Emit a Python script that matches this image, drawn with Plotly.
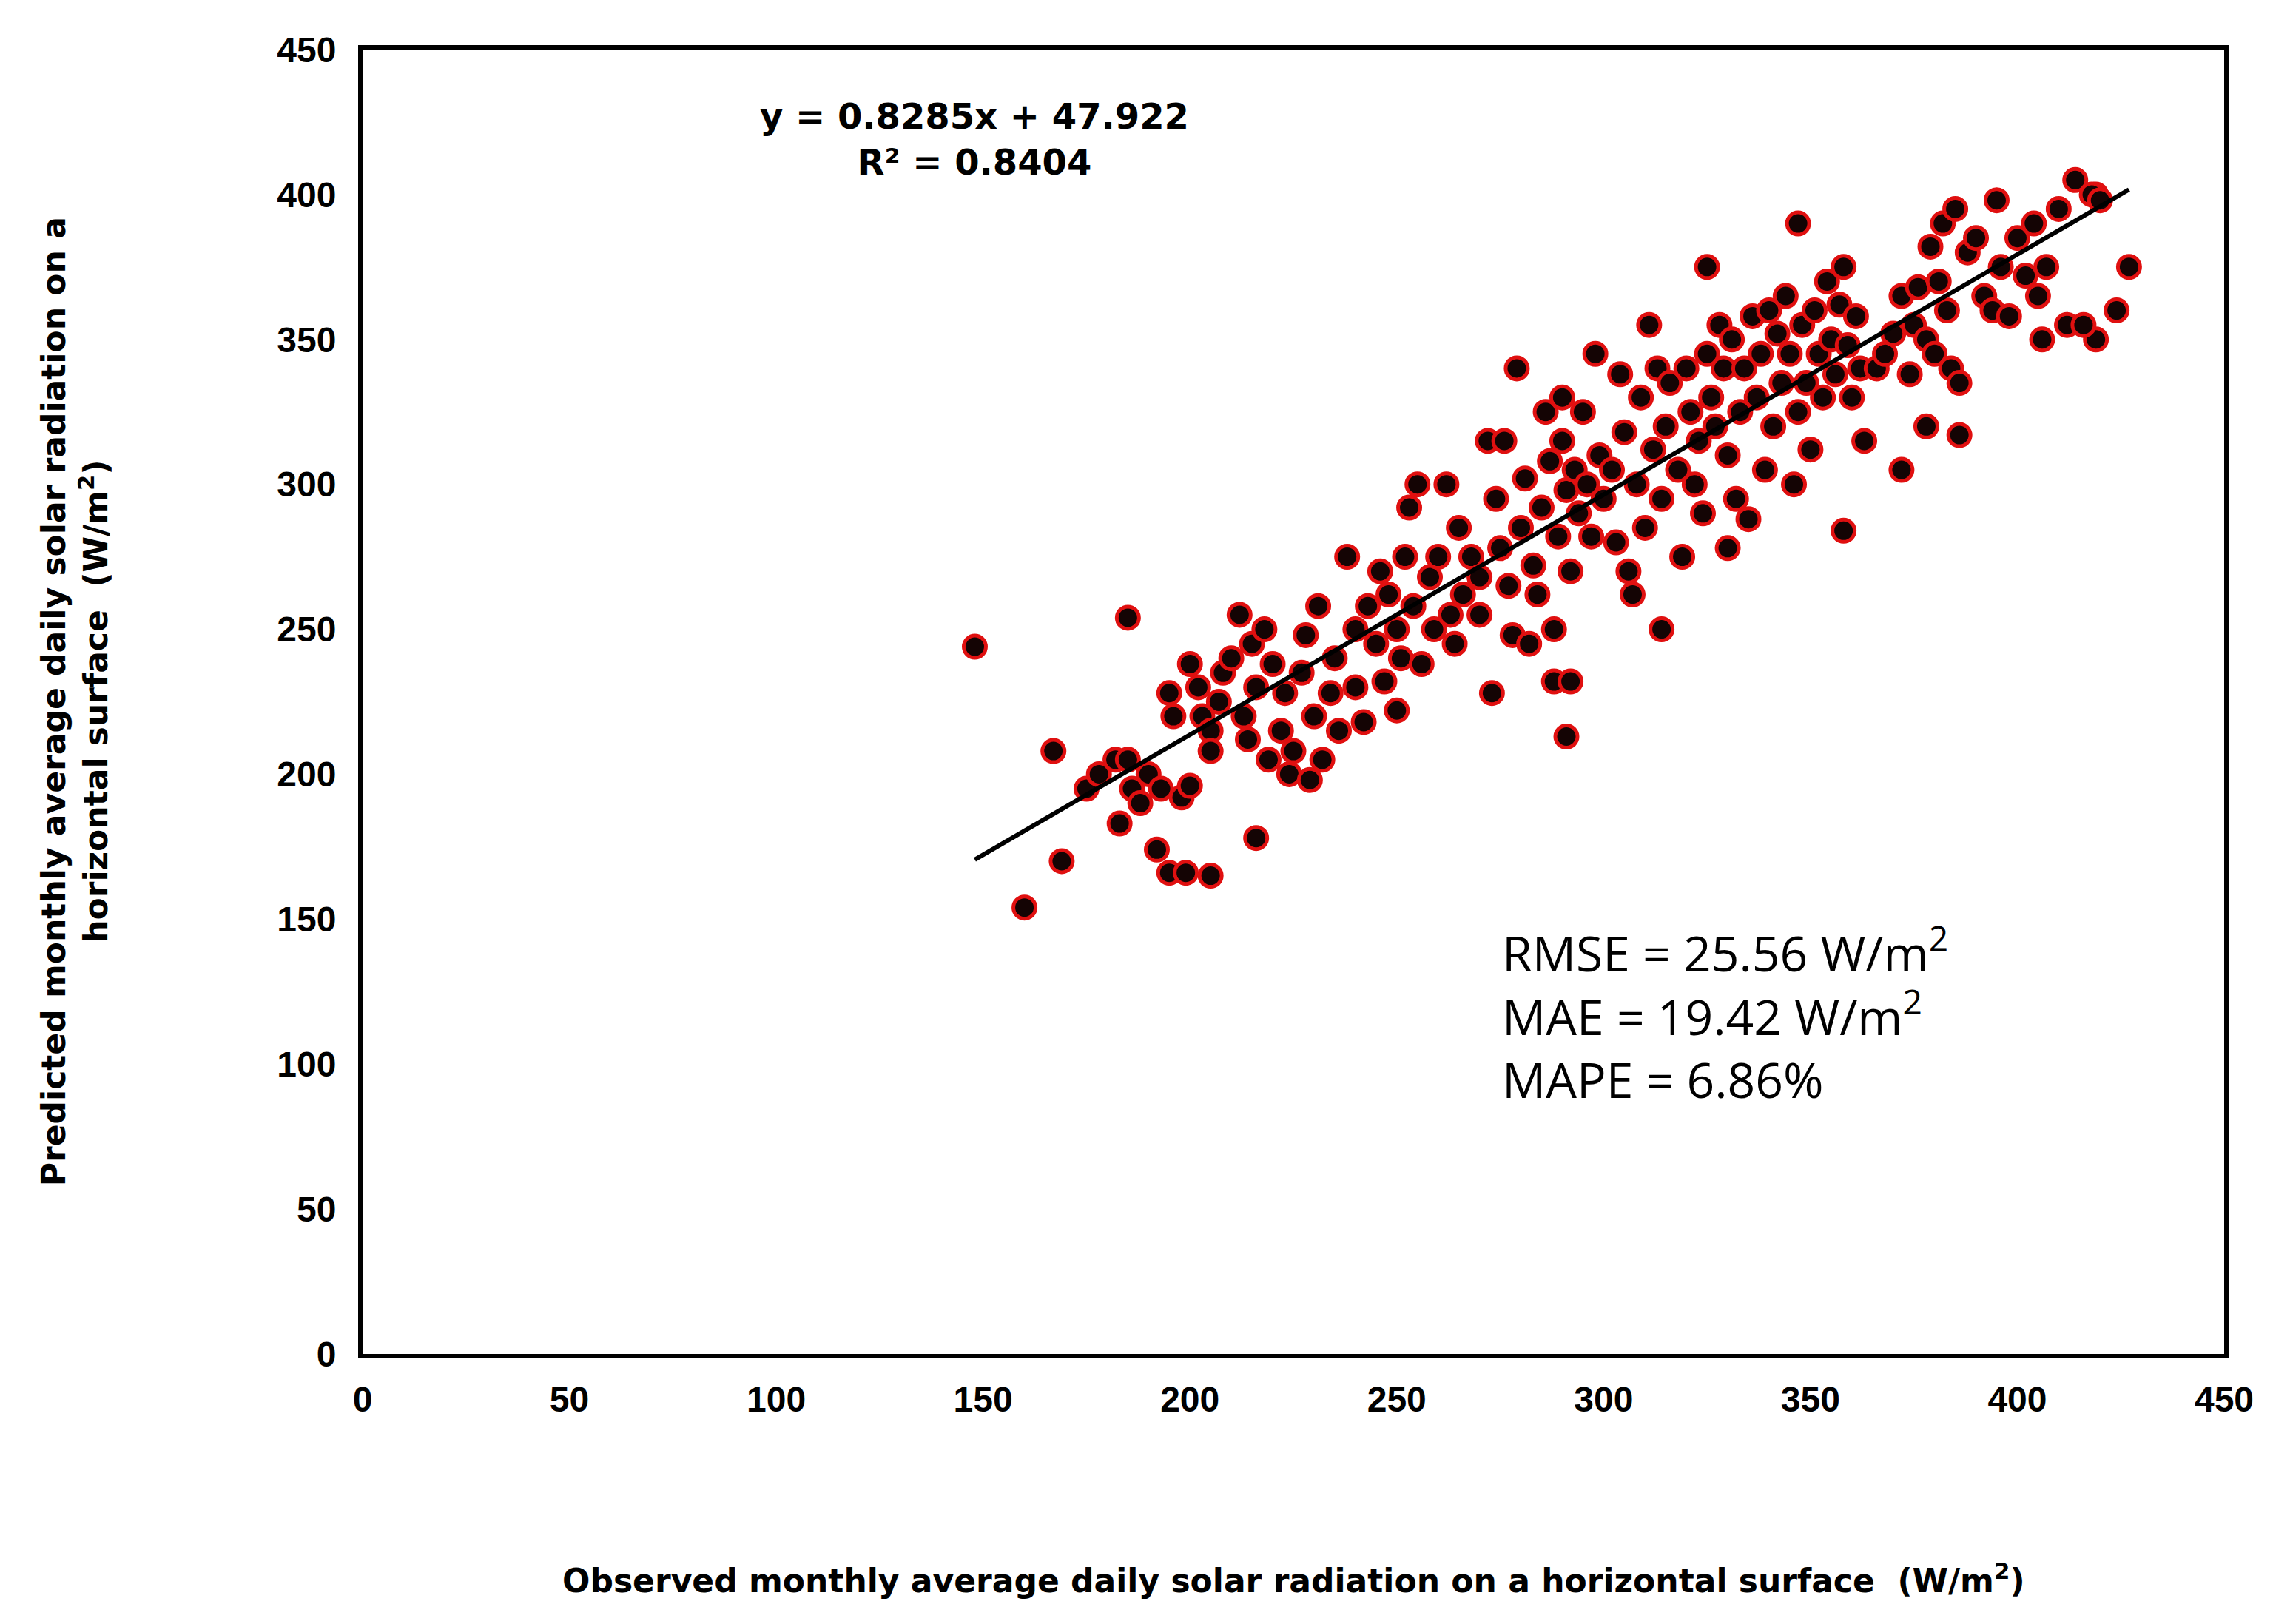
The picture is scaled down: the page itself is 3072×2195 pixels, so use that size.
import plotly.graph_objects as go

pts = [
(148,244),(160,154),(167,208),(169,170),(185,254),(183,183),(192,174),(195,166),(199,166),(205,165),(216,178),
(291,213),(288,232),(292,232),(314,250),(347,390),(325,375),(358,284),(372,305),(378,320),(386,317),(395,398),
(414,405),(427,375),(419,350),(406,350),(419,400),(424,360),
(175,195),(178,200),(182,205),(185,205),(186,195),(188,190),(190,200),(193,195),(195,228),(196,220),(198,192),
(200,196),(200,238),(202,230),(203,220),(205,215),(205,208),(207,225),(208,235),(210,240),(212,255),(213,220),
(214,212),(215,245),(216,230),(218,250),(219,205),(220,238),(222,215),(223,228),(224,200),(225,208),(227,235),
(228,248),(229,198),(230,220),(231,258),(232,205),(234,228),(235,240),(236,215),
(238,275),(240,250),(240,230),(242,218),(243,258),(245,245),(246,270),(247,232),(248,262),(250,250),(250,222),
(251,240),(252,275),(253,292),(254,258),(255,300),(256,238),(258,268),(259,250),(260,275),(262,300),(263,255),
(264,245),(265,285),(266,262),(268,275),(270,268),(270,255),
(272,315),(273,228),(274,295),(275,278),(276,315),(277,265),(278,248),(279,340),(280,285),(281,302),(282,245),
(283,272),(284,262),(285,292),(286,325),(287,308),(288,250),(289,282),(290,330),(290,315),(291,298),(292,270),
(293,305),(294,290),(295,325),(296,300),(297,282),(298,345),(299,310),(300,295),
(302,305),(303,280),(304,338),(305,318),(306,270),(307,262),(308,300),(309,330),(310,285),(311,355),(312,312),
(313,340),(314,295),(315,320),(316,335),(318,305),(319,275),(320,340),(321,325),(322,300),(323,315),(324,290),
(325,345),(326,330),(327,320),(328,355),(329,340),(330,278),(330,310),
(331,350),(332,295),(333,325),(334,340),(335,288),(336,358),(337,330),(338,345),(339,305),(340,360),(341,320),
(342,352),(343,335),(344,365),(345,345),(346,300),(347,325),(348,355),(349,335),(350,312),(351,360),(352,345),
(353,330),(354,370),(355,350),(356,338),(357,362),(358,375),(359,348),(360,330),(361,358),(362,340),(363,315),
(366,340),(368,345),(370,352),(372,365),(374,338),(375,355),(376,368),(378,350),(379,382),(380,345),(381,370),
(382,390),(383,360),(384,340),(385,395),(386,335),(388,380),(390,385),(392,365),(394,360),(396,375),(398,358),
(400,385),(402,372),(404,390),(405,365),(407,375),(410,395),(412,355),(416,355),(418,400),(420,398),
]
observed = [p[0] for p in pts]
predicted = [p[1] for p in pts]
slope, intercept = 0.8285, 47.922
fit_x = [148, 427]
fit_y = [slope * x + intercept for x in fit_x]
ticks = list(range(0, 451, 50))

fig = go.Figure()
fig.add_trace(go.Scatter(x=observed, y=predicted, mode="markers",
    marker=dict(size=30, color="#140404", line=dict(color="#e01010", width=5)), showlegend=False))
fig.add_trace(go.Scatter(x=fit_x, y=fit_y, mode="lines", line=dict(color="black", width=6), showlegend=False))

tickfont = dict(family="Liberation Sans", size=48, color="black", weight="bold")
fig.update_layout(
    width=3072, height=2195, plot_bgcolor="white", paper_bgcolor="white",
    margin=dict(l=482, r=74, t=59, b=373),
    xaxis=dict(range=[0, 450], tickvals=ticks, showgrid=False, zeroline=False,
               showline=True, linecolor="black", linewidth=6, mirror=True,
               tickfont=tickfont, ticks="outside", ticklen=14, tickcolor="white"),
    yaxis=dict(range=[0, 450], tickvals=ticks, showgrid=False, zeroline=False,
               showline=True, linecolor="black", linewidth=6, mirror=True,
               tickfont=tickfont, ticks="outside", ticklen=20, tickcolor="white"),
    font=dict(family="DejaVu Sans", color="black"),
)
fig.add_annotation(xref="paper", yref="paper", x=0.5, y=-0.172, yanchor="middle", showarrow=False,
    text="<b>Observed monthly average daily solar radiation on a horizontal surface  (W/m<sup>2</sup>)</b>",
    font=dict(family="DejaVu Sans", size=44))
fig.add_annotation(xref="paper", yref="paper", x=-0.177, y=0.5, textangle=-90, showarrow=False,
    text="<b>Predicted monthly average daily solar radiation on a<br>horizontal surface  (W/m<sup>2</sup>)</b>",
    font=dict(family="DejaVu Sans", size=44))
fig.add_annotation(xref="x", yref="y", x=148, y=419, showarrow=False,
    text="<b>y = 0.8285x + 47.922<br>R² = 0.8404</b>", font=dict(family="DejaVu Sans", size=48))
fig.add_annotation(xref="x", yref="y", x=275, y=83, xanchor="left", yanchor="bottom", showarrow=False, align="left",
    text="RMSE = 25.56 W/m<sup>2</sup><br>MAE = 19.42 W/m<sup>2</sup><br>MAPE = 6.86%",
    font=dict(family="Open Sans", size=66))
fig.write_html("out.html")
